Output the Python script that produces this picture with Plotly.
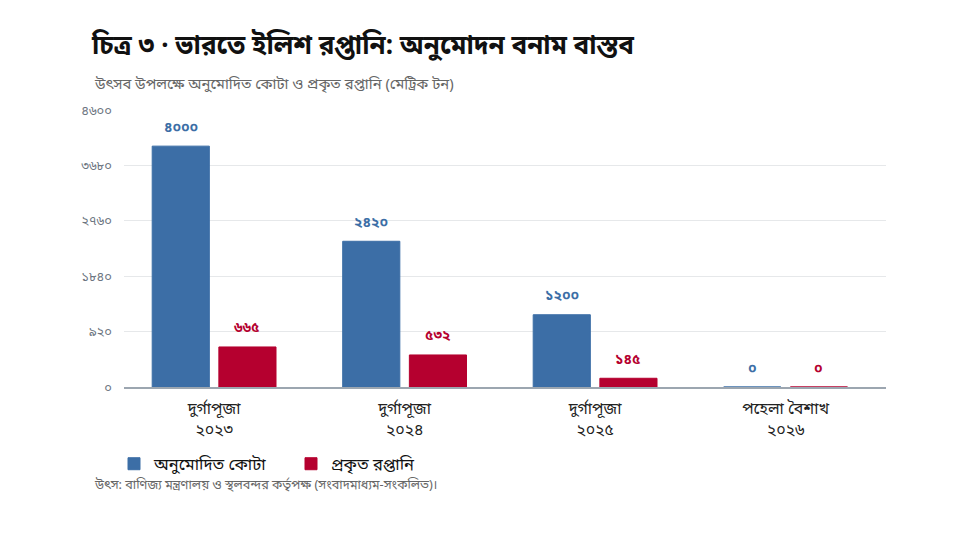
import plotly.graph_objects as go

categories = ["দুর্গাপূজা<br>২০২৩", "দুর্গাপূজা<br>২০২৪", "দুর্গাপূজা<br>২০২৫", "পহেলা বৈশাখ<br>২০২৬"]
quota = [4000, 2420, 1200, 0]
actual = [665, 532, 145, 0]
series_names = ["অনুমোদিত কোটা", "প্রকৃত রপ্তানি"]
y_ticks = [0, 920, 1840, 2760, 3680, 4600]

BLUE = "#3c6ea6"
RED = "#b5002f"
FONT = "Noto Sans, Noto Sans Bengali, sans-serif"

W, H = 979, 544
L, R, T, B = 116, 101, 102, 165
BARGAP, GROUPGAP = 0.3, 0.143

BN = str.maketrans("0123456789", "০১২৩৪৫৬৭৮৯")


def bn(v):
    return str(v).translate(BN)


fig = go.Figure()
series = [(series_names[0], quota, BLUE), (series_names[1], actual, RED)]
for name, vals, col in series:
    fig.add_trace(go.Bar(
        name=name, x=categories, y=vals,
        marker=dict(color=col, line=dict(color=col, width=1)),
        cliponaxis=False,
    ))

# value labels sit a bit higher above the bars than plotly's "outside" text
plot_w = W - L - R
cat_w = plot_w / len(categories)
slot = cat_w * (1 - BARGAP) / 2
for i, (name, vals, col) in enumerate(series):
    dx = (i - 0.5) * slot
    for c, v in zip(categories, vals):
        fig.add_annotation(x=c, y=v, text="<b>" + bn(v) + "</b>", showarrow=False,
                           xshift=dx, yshift=20, yanchor="middle",
                           font=dict(size=14, color=col))

fig.update_layout(
    width=W, height=H,
    paper_bgcolor="white", plot_bgcolor="white",
    font=dict(family=FONT, color="#222"),
    margin=dict(l=L, r=R, t=T, b=B),
    barmode="group", bargap=BARGAP, bargroupgap=GROUPGAP,
    title=dict(
        text="চিত্র ৩ · ভারতে ইলিশ রপ্তানি: অনুমোদন বনাম বাস্তব",
        x=84 / W, xanchor="left", y=1 - 37 / H, yanchor="middle",
        font=dict(size=26, color="#111", family=FONT, weight="bold"),
    ),
    legend=dict(orientation="h", x=-10 / plot_w, xanchor="left",
                y=-(456 - (H - B)) / (H - T - B), yanchor="middle",
                entrywidth=132,
                font=dict(size=16.5, color="#111"), traceorder="normal"),
    showlegend=True,
)

fig.update_xaxes(showline=True, linecolor="#9ca6b0", linewidth=2, ticks="",
                 range=[-0.473, 3.527],
                 tickfont=dict(size=16, color="#222"), ticklabelstandoff=6)
fig.update_yaxes(range=[0, 4600], tickvals=y_ticks, ticktext=[bn(t) for t in y_ticks],
                 showgrid=True, gridcolor="#e6e8ea", zeroline=False,
                 tickfont=dict(size=13, color="#6b7480"), ticklabelstandoff=11)

fig.add_annotation(
    text="উৎসব উপলক্ষে অনুমোদিত কোটা ও প্রকৃত রপ্তানি (মেট্রিক টন)",
    xref="paper", yref="paper", x=(84 - L) / plot_w, y=1, yshift=T - 75,
    showarrow=False, font=dict(size=14.8, color="#666"), xanchor="left", yanchor="middle",
)

fig.add_annotation(
    text="উৎস: বাণিজ্য মন্ত্রণালয় ও স্থলবন্দর কর্তৃপক্ষ (সংবাদমাধ্যম-সংকলিত)।",
    xref="paper", yref="paper", x=(84 - L) / plot_w, y=0, yshift=-(476 - (H - B)),
    showarrow=False, font=dict(size=12.7, color="#666"), xanchor="left", yanchor="middle",
)

fig.write_html("out.html")
